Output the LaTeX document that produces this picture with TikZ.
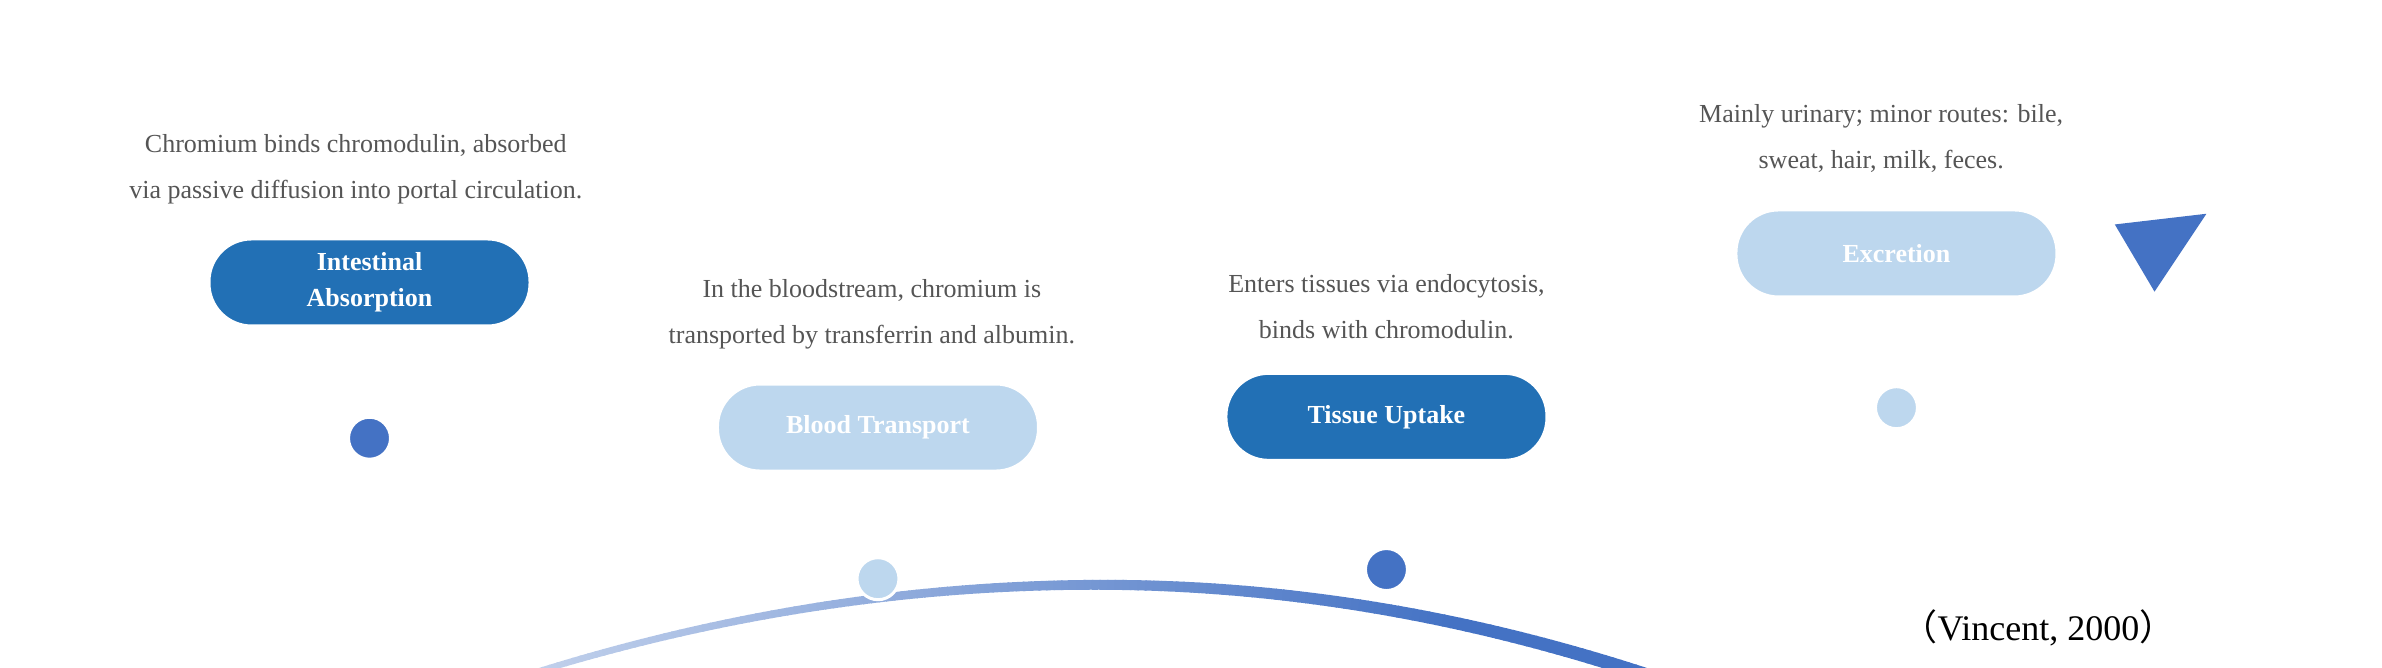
\documentclass[tikz,border=0pt]{standalone}
\usepackage{fontspec}
\setmainfont{Liberation Serif}
\newfontfamily\cjk{Noto Sans CJK SC}
\definecolor{arrblue}{HTML}{4472C4}
\definecolor{darkpill}{HTML}{2270B5}
\definecolor{lightpill}{HTML}{BDD7EE}
\definecolor{txtgrey}{HTML}{555555}
\begin{document}
\begin{tikzpicture}[x=0.7635pt,y=-0.7635pt,
  pill/.style={rounded corners=21pt, minimum width=160pt, minimum height=43pt, inner sep=0pt, font=\bfseries\fontsize{13}{18}\selectfont, text=white, align=center, draw=white, line width=1pt},
  dark/.style={pill, fill=darkpill},
  light/.style={pill, fill=lightpill},
  desc/.style={text=txtgrey, align=center, font=\fontsize{13}{23}\selectfont},
  dot/.style={circle, minimum size=21pt, inner sep=0pt, draw=white, line width=1.5pt}]
\useasboundingbox (0,0) rectangle (1560,437);
% curve
\foreach \x in {50,55,...,1390}{
  \pgfmathsetmacro\xb{\x+6}
  \pgfmathsetmacro\ua{abs(\x-720)/100}
  \pgfmathsetmacro\ub{abs(\xb-720)/100}
  \pgfmathsetmacro\ka{\x<720?4.2:4.6}
  \pgfmathsetmacro\kb{\xb<720?4.2:4.6}
  \pgfmathsetmacro\ya{\ka*\ua*\ua+383}
  \pgfmathsetmacro\yb{\kb*\ub*\ub+383}
  \pgfmathsetmacro\p{min(100,(\x-50)/9)}
  \pgfmathsetmacro\w{2+9*(\x-50)/1340}
  \draw[line width=\w*0.7635pt, color=arrblue!\p!white] (\x,\ya) -- (\xb,\yb);
}
\fill[arrblue] (1445,140) -- (1411,191) -- (1385,147) -- cycle;
% dots
\node[dot, fill=arrblue] (d1) at (242,287) {};
\node[dot, fill=lightpill] (d2) at (575,379) {};
\node[dot, fill=arrblue] (d3) at (908,373) {};
\node[dot, fill=lightpill] (d4) at (1242,267) {};
% pills
\node[dark] (p1) at (242,185) {Intestinal\\Absorption};
\node[light] (p2) at (575,280) {Blood Transport};
\node[dark] (p3) at (908,273) {Tissue Uptake};
\node[light] (p4) at (1242,166) {Excretion};
% descriptions
\node[desc] (t1) at (233,111) {Chromium binds chromodulin, absorbed\\via passive diffusion into portal circulation.};
\node[desc] (t2) at (571,206) {In the bloodstream, chromium is\\transported by transferrin and albumin.};
\node[desc] (t3) at (908,201) {Enters tissues via endocytosis,\\binds with chromodulin.};
\node[desc] (t4) at (1232,91) {Mainly urinary; minor routes: bile,\\sweat, hair, milk, feces.};
\node[text=black, font=\fontsize{18}{20}\selectfont] (cit) at (1335,411) {{\cjk （}Vincent, 2000{\cjk ）}};
\end{tikzpicture}
\end{document}
